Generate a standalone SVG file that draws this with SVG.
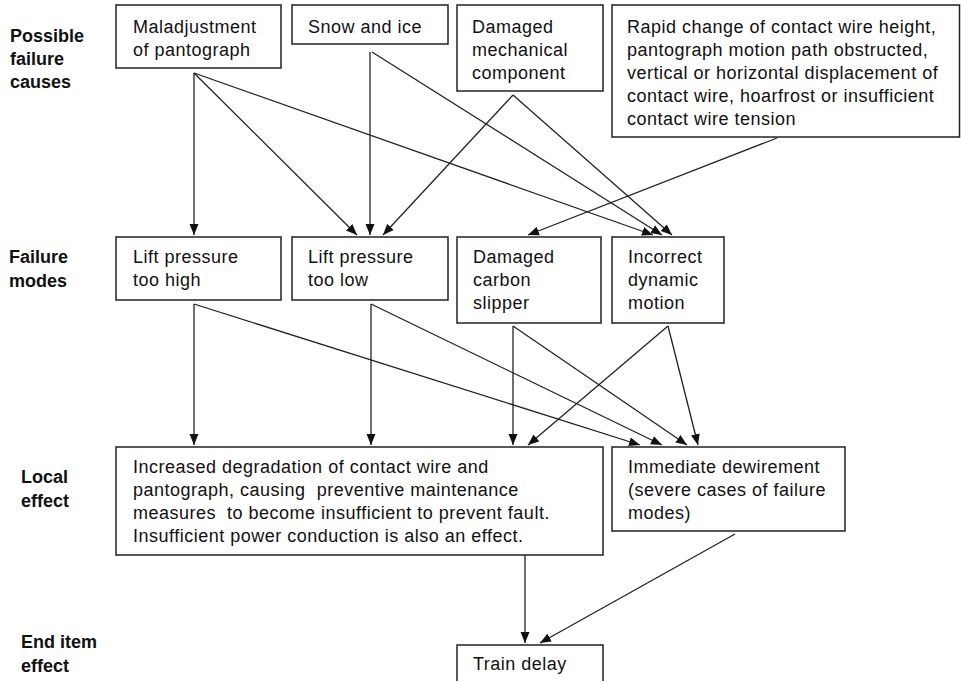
<svg xmlns="http://www.w3.org/2000/svg" width="961" height="681" viewBox="0 0 961 681">
<style>
.box{fill:#fff;stroke:#222;stroke-width:1.5}
.t{font-family:"Liberation Sans",Arial,sans-serif;font-size:18px;letter-spacing:0.5px;fill:#111;white-space:pre}
.lbl{font-family:"Liberation Sans",Arial,sans-serif;font-size:18px;font-weight:bold;fill:#111}
.c{stroke:#222;stroke-width:1.3;fill:none;marker-end:url(#ah)}
</style>
<defs>
<marker id="ah" markerUnits="userSpaceOnUse" markerWidth="11" markerHeight="10" refX="11" refY="5" orient="auto">
<path d="M0,0.5 L11,5 L0,9.5 z" fill="#111"/>
</marker>
</defs>
<rect width="961" height="681" fill="#fff"/>
<g id="labels">
<text class="lbl"><tspan x="10" y="42">Possible</tspan><tspan x="10" y="65">failure</tspan><tspan x="10" y="88">causes</tspan></text>
<text class="lbl"><tspan x="9" y="263">Failure</tspan><tspan x="9" y="287">modes</tspan></text>
<text class="lbl"><tspan x="21" y="483">Local</tspan><tspan x="21" y="507">effect</tspan></text>
<text class="lbl"><tspan x="21" y="648">End item</tspan><tspan x="21" y="672">effect</tspan></text>
</g>
<g id="connectors">
<line class="c" x1="194" y1="73" x2="194" y2="235"/>
<line class="c" x1="194" y1="73" x2="357" y2="235"/>
<line class="c" x1="194" y1="73" x2="653" y2="235"/>
<line class="c" x1="370" y1="52" x2="370" y2="235"/>
<line class="c" x1="372" y1="52" x2="662" y2="235"/>
<line class="c" x1="513" y1="95" x2="383" y2="235"/>
<line class="c" x1="513" y1="95" x2="672" y2="235"/>
<line class="c" x1="777" y1="138" x2="528" y2="235"/>
<line class="c" x1="194" y1="304" x2="194" y2="445"/>
<line class="c" x1="194" y1="304" x2="640" y2="445"/>
<line class="c" x1="371" y1="304" x2="371" y2="445"/>
<line class="c" x1="371" y1="304" x2="662" y2="445"/>
<line class="c" x1="513" y1="326" x2="513" y2="445"/>
<line class="c" x1="513" y1="326" x2="687" y2="445"/>
<line class="c" x1="668" y1="326" x2="528" y2="445"/>
<line class="c" x1="668" y1="326" x2="698" y2="445"/>
<line class="c" x1="525" y1="555" x2="525" y2="643"/>
<line class="c" x1="735" y1="534" x2="540" y2="643"/>
</g>
<g id="n-maladjustment">
<rect class="box" x="116" y="5" width="165" height="63"/>
<text class="t"><tspan x="133" y="33">Maladjustment</tspan><tspan x="133" y="56">of pantograph</tspan></text>
</g>
<g id="n-snow">
<rect class="box" x="292" y="5" width="156" height="39"/>
<text class="t"><tspan x="308" y="33">Snow and ice</tspan></text>
</g>
<g id="n-damaged-mech">
<rect class="box" x="457" y="5" width="146" height="86"/>
<text class="t"><tspan x="472" y="33">Damaged</tspan><tspan x="472" y="56">mechanical</tspan><tspan x="472" y="79">component</tspan></text>
</g>
<g id="n-rapid">
<rect class="box" x="612" y="5" width="347.5" height="132"/>
<text class="t"><tspan x="627" y="33">Rapid change of contact wire height,</tspan><tspan x="627" y="56">pantograph motion path obstructed,</tspan><tspan x="627" y="79">vertical or horizontal displacement of</tspan><tspan x="627" y="102">contact wire, hoarfrost or insufficient</tspan><tspan x="627" y="125">contact wire tension</tspan></text>
</g>
<g id="n-lift-high">
<rect class="box" x="116" y="237" width="165" height="63"/>
<text class="t"><tspan x="133" y="263">Lift pressure</tspan><tspan x="133" y="286">too high</tspan></text>
</g>
<g id="n-lift-low">
<rect class="box" x="292" y="237" width="156" height="63"/>
<text class="t"><tspan x="308" y="263">Lift pressure</tspan><tspan x="308" y="286">too low</tspan></text>
</g>
<g id="n-carbon">
<rect class="box" x="457" y="237" width="144" height="86"/>
<text class="t"><tspan x="473" y="263">Damaged</tspan><tspan x="473" y="286">carbon</tspan><tspan x="473" y="309">slipper</tspan></text>
</g>
<g id="n-dynamic">
<rect class="box" x="612" y="237" width="112" height="86"/>
<text class="t"><tspan x="628" y="263">Incorrect</tspan><tspan x="628" y="286">dynamic</tspan><tspan x="628" y="309">motion</tspan></text>
</g>
<g id="n-degradation">
<rect class="box" x="116" y="447" width="487" height="108"/>
<text class="t" xml:space="preserve"><tspan x="133" y="473">Increased degradation of contact wire and</tspan><tspan x="133" y="496">pantograph, causing  preventive maintenance</tspan><tspan x="133" y="519">measures  to become insufficient to prevent fault.</tspan><tspan x="133" y="542">Insufficient power conduction is also an effect.</tspan></text>
</g>
<g id="n-dewirement">
<rect class="box" x="612" y="447" width="233" height="84"/>
<text class="t"><tspan x="628" y="473">Immediate dewirement</tspan><tspan x="628" y="496">(severe cases of failure</tspan><tspan x="628" y="519">modes)</tspan></text>
</g>
<g id="n-train-delay">
<rect class="box" x="457" y="645" width="146" height="50"/>
<text class="t"><tspan x="473" y="670">Train delay</tspan></text>
</g>
</svg>
